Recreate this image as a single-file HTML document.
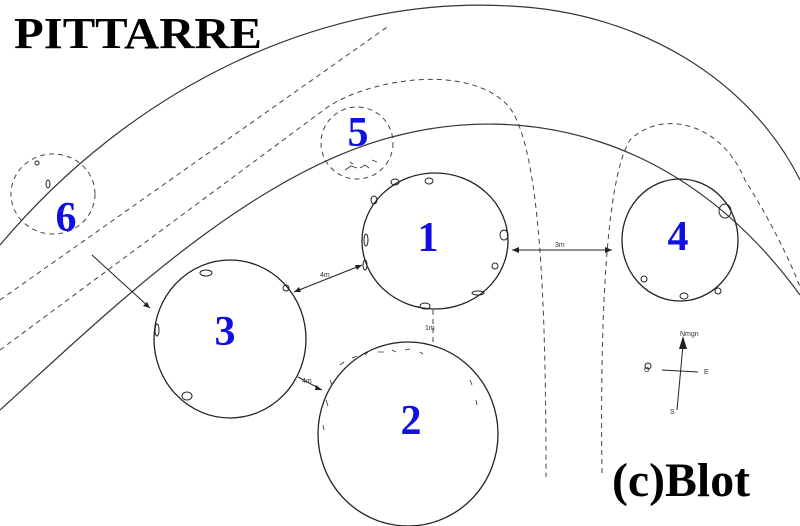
<!DOCTYPE html>
<html><head><meta charset="utf-8"><style>
html,body{margin:0;padding:0;background:#fff;}
svg{display:block;}
.n{font-family:"Liberation Serif",serif;font-weight:bold;fill:#1010e0;font-size:42px;text-anchor:middle;}
</style></head><body>
<svg width="800" height="526" viewBox="0 0 800 526" xmlns="http://www.w3.org/2000/svg">
<rect width="800" height="526" fill="#fff"/>
<g fill="none" stroke="#333" stroke-width="1.2">
<path d="M0,245 C130,90 320,-5 510,6 C640,12 750,80 800,180"/>
<path d="M0,410 C100,320 250,170 400,135 C520,105 680,130 800,295"/>
</g>
<g fill="none" stroke="#444" stroke-width="1" stroke-dasharray="5,4">
<path d="M0,300 L390,25"/>
<path d="M0,350 L321,112 C360,80 470,60 510,108 C540,150 546,300 546,477"/>
<path d="M602,473 C600,330 605,180 630,140 C660,110 720,120 745,180 C770,220 790,260 800,287"/>
<ellipse cx="357" cy="143" rx="36" ry="36"/>
<ellipse cx="53" cy="194" rx="42" ry="40"/>
<line x1="433" y1="310" x2="433" y2="342"/>
</g>
<g fill="none" stroke="#222" stroke-width="1.3">
<ellipse cx="435" cy="241" rx="73" ry="68"/>
<ellipse cx="408" cy="434" rx="90" ry="92"/>
<ellipse cx="230" cy="339" rx="76" ry="79"/>
<ellipse cx="680" cy="240" rx="58" ry="61"/>
</g>
<g fill="none" stroke="#222" stroke-width="1">
<line x1="512" y1="250" x2="612" y2="250"/>
<line x1="294" y1="292" x2="362" y2="265"/>
<line x1="92" y1="255" x2="150" y2="308"/>
<line x1="298" y1="377" x2="322" y2="390"/>
<ellipse cx="395" cy="182" rx="4" ry="3"/>
<ellipse cx="429" cy="181" rx="4" ry="3"/>
<ellipse cx="374" cy="200" rx="3" ry="4"/>
<ellipse cx="366" cy="240" rx="2" ry="6"/>
<ellipse cx="365" cy="265" rx="2" ry="5"/>
<ellipse cx="504" cy="235" rx="4" ry="5"/>
<ellipse cx="478" cy="293" rx="6" ry="2"/>
<ellipse cx="425" cy="306" rx="5" ry="3"/>
<ellipse cx="495" cy="266" rx="3" ry="3"/>
<ellipse cx="206" cy="273" rx="6" ry="3"/>
<ellipse cx="286" cy="288" rx="3" ry="3"/>
<ellipse cx="157" cy="330" rx="2" ry="6"/>
<ellipse cx="187" cy="396" rx="5" ry="4"/>
<ellipse cx="725" cy="211" rx="6" ry="7"/>
<ellipse cx="644" cy="279" rx="3" ry="3"/>
<ellipse cx="684" cy="296" rx="4" ry="3"/>
<ellipse cx="718" cy="291" rx="3" ry="3"/>
<ellipse cx="48" cy="184" rx="2" ry="4"/>
<ellipse cx="37" cy="163" rx="2" ry="2"/>
<ellipse cx="648" cy="366" rx="3" ry="3"/>
<line x1="677" y1="410" x2="683" y2="345"/>
<line x1="662" y1="370" x2="698" y2="372"/>
</g>
<path d="M683,336 L679,349 L687,349 Z" fill="#222"/>
<path d="M512,250 l7,-3 v6 Z M612,250 l-7,-3 v6 Z M362,265 l-7,0 l2,5 Z M294,292 l7,0 l-2,-5 Z M150,308 l-3,-6 l-4,4 Z M322,390 l-6,-5 l-1,5 Z" fill="#222"/>
<g fill="none" stroke="#333" stroke-width="0.8">
<path d="M340,365 l4,-3 M352,358 l5,-2 M365,355 l3,-3 M378,352 l6,0 M392,350 l4,2 M405,350 l5,-1 M420,352 l3,2 M330,380 l2,5 M326,400 l2,6 M323,425 l1,5 M470,380 l2,5 M476,400 l1,5"/>
<path d="M345,170 l6,-4 l6,2 M360,168 l5,-3 l4,3 M372,160 l5,2 M350,162 l3,2"/>
</g>
<g font-family="Liberation Sans,sans-serif" font-size="7" fill="#333">
<text x="555" y="247">3m</text>
<text x="425" y="330">1m</text>
<text x="320" y="277">4m</text>
<text x="302" y="383">4m</text>
<text x="680" y="336">Nmgn</text>
<text x="644" y="372">O</text>
<text x="704" y="374">E</text>
<text x="670" y="414">S</text>
</g>
<text x="14" y="48" font-family="Liberation Serif,serif" font-weight="bold" font-size="44" fill="#000" textLength="248" lengthAdjust="spacingAndGlyphs">PITTARRE</text>
<text x="612" y="496" font-family="Liberation Serif,serif" font-weight="bold" font-size="48" fill="#000" textLength="138" lengthAdjust="spacingAndGlyphs">(c)Blot</text>
<text class="n" x="428" y="251">1</text>
<text class="n" x="411" y="434">2</text>
<text class="n" x="225" y="345">3</text>
<text class="n" x="678" y="250">4</text>
<text class="n" x="358" y="146">5</text>
<text class="n" x="66" y="231">6</text>
</svg>
</body></html>
